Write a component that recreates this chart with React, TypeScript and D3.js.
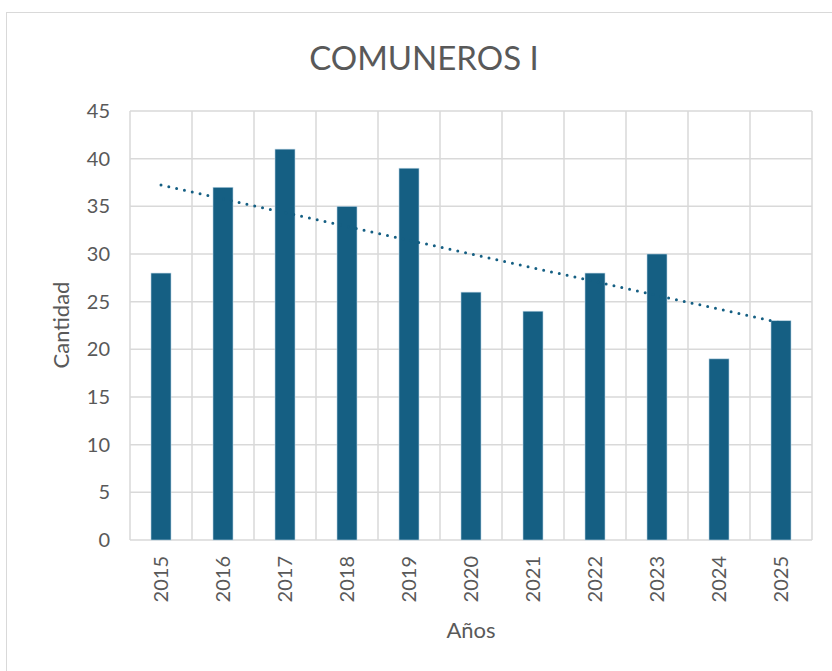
import { useRef, useEffect } from 'react';
import * as d3 from 'd3';

const years = ['2015', '2016', '2017', '2018', '2019', '2020', '2021', '2022', '2023', '2024', '2025'];
const cantidad = [28, 37, 41, 35, 39, 26, 24, 28, 30, 19, 23];
const yTicks = [0, 5, 10, 15, 20, 25, 30, 35, 40, 45];

const W = 832;
const H = 671;
const FONT = 'Lato, "Open Sans", sans-serif';
const BAR = '#155f83';
const TEXT = '#595959';
const GRID = '#d9d9d9';

const App: React.FC = () => {
  const svgRef = useRef<SVGSVGElement>(null);

  useEffect(() => {
    if (!svgRef.current) return;
    const svg = d3.select(svgRef.current);
    svg.selectAll('*').remove();

    const margin = { top: 111, right: 20, bottom: 131, left: 130 };
    const innerW = W - margin.left - margin.right;
    const innerH = H - margin.top - margin.bottom;

    // chart frame
    svg.append('rect')
      .attr('x', 6.5).attr('y', 12.5)
      .attr('width', 840).attr('height', 700)
      .attr('fill', '#fff').attr('stroke', GRID).attr('stroke-width', 1);

    svg.append('text')
      .attr('x', 424).attr('y', 70)
      .attr('text-anchor', 'middle')
      .attr('font-family', FONT).attr('font-size', 33)
      .attr('fill', TEXT)
      .text('COMUNEROS I');

    const g = svg.append('g').attr('transform', `translate(${margin.left},${margin.top})`);

    const x = d3.scaleBand().domain(years).range([0, innerW]).paddingInner(0).paddingOuter(0);
    const y = d3.scaleLinear().domain([0, 45]).range([innerH, 0]);

    // horizontal grid
    g.append('g').selectAll('line').data(yTicks).enter().append('line')
      .attr('x1', 0).attr('x2', innerW)
      .attr('y1', d => y(d)).attr('y2', d => y(d))
      .attr('stroke', GRID).attr('stroke-width', 1.5);

    // vertical grid at category boundaries
    const bounds = years.map(d => x(d)!).concat([innerW]);
    g.append('g').selectAll('line').data(bounds).enter().append('line')
      .attr('x1', d => d).attr('x2', d => d)
      .attr('y1', 0).attr('y2', innerH)
      .attr('stroke', GRID).attr('stroke-width', 1.5);

    // y tick labels
    g.append('g').selectAll('text').data(yTicks).enter().append('text')
      .attr('x', -20).attr('y', d => y(d))
      .attr('dy', '0.35em')
      .attr('text-anchor', 'end')
      .attr('font-family', FONT).attr('font-size', 20)
      .attr('fill', TEXT)
      .text(d => d);

    // bars
    const barW = 20;
    g.append('g').selectAll('rect').data(cantidad).enter().append('rect')
      .attr('x', (d, i) => x(years[i])! + x.bandwidth() / 2 - barW / 2)
      .attr('y', d => y(d))
      .attr('width', barW)
      .attr('height', d => innerH - y(d))
      .attr('fill', BAR)
      .attr('stroke', '#b9d3e3').attr('stroke-width', 0.6);

    // linear trend line
    const n = cantidad.length;
    const xs = d3.range(1, n + 1);
    const mx = d3.mean(xs)!;
    const my = d3.mean(cantidad)!;
    const slope = d3.sum(xs, (v, i) => (v - mx) * (cantidad[i] - my)) / d3.sum(xs, v => (v - mx) ** 2);
    const icpt = my - slope * mx;
    const cx = (i: number) => x(years[i])! + x.bandwidth() / 2;
    g.append('line')
      .attr('x1', cx(0)).attr('y1', y(icpt + slope * 1))
      .attr('x2', cx(n - 1)).attr('y2', y(icpt + slope * n))
      .attr('stroke', BAR).attr('stroke-width', 3)
      .attr('stroke-linecap', 'round')
      .attr('stroke-dasharray', '0 8');

    // x tick labels (rotated)
    g.append('g').selectAll('text').data(years).enter().append('text')
      .attr('transform', d => `translate(${cx(years.indexOf(d))},${innerH + 16}) rotate(-90)`)
      .attr('text-anchor', 'end')
      .attr('dy', '0.35em')
      .attr('font-family', FONT).attr('font-size', 20)
      .attr('fill', TEXT)
      .text(d => d);

    // axis titles
    svg.append('text')
      .attr('x', margin.left + innerW / 2).attr('y', 638)
      .attr('text-anchor', 'middle')
      .attr('font-family', FONT).attr('font-size', 22)
      .attr('fill', TEXT)
      .text('Años');

    svg.append('text')
      .attr('transform', `translate(69,325) rotate(-90)`)
      .attr('text-anchor', 'middle')
      .attr('font-family', FONT).attr('font-size', 22)
      .attr('fill', TEXT)
      .text('Cantidad');
  }, []);

  return (
    <svg
      ref={svgRef}
      width={W}
      height={H}
      style={{ position: 'absolute', left: 0, top: 0, display: 'block', background: '#fff' }}
    />
  );
};

export default App;
